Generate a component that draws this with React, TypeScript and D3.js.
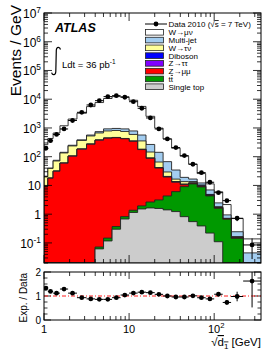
import React from 'react';
import * as d3 from 'd3';

// ---- data (Events / GeV), 25 bins in sqrt(d1) [GeV] ----
const binEdges = [1, 1.11, 1.28, 1.54, 1.92, 2.44, 3.16, 3.98, 5.01, 6.31, 7.94, 10, 12.6, 15.8, 20, 25.1, 31.6, 39.8, 50.1, 63.1, 79.4, 100, 126, 158, 219, 355];

const dataValues = [197, 361, 594, 923, 1820, 3500, 6300, 8900, 12300, 13300, 11700, 8200, 4840, 2230, 923, 414, 207, 109, 54.6, 27.9, 12.9, 5.6, 2.96, 0.72, 0.085];
const ratioErrors = [0.06, 0.05, 0.04, 0.03, 0.02, 0.02, 0.02, 0.02, 0.02, 0.02, 0.02, 0.02, 0.02, 0.02, 0.02, 0.02, 0.02, 0.03, 0.03, 0.03, 0.04, 0.06, 0.1, 0.2, 1.1];

const singleTop = [0, 0, 0, 0, 0, 0, 0, 0.062, 0.117, 0.3, 0.68, 1.15, 1.52, 1.65, 1.58, 1.41, 1.23, 0.82, 0.55, 0.39, 0.22, 0.11, 0.01, 0.005, 0];
const ttbar = [0, 0, 0, 0, 0, 0, 0, 0.01, 0.03, 0.07, 0.14, 0.22, 0.42, 1.0, 1.55, 2.9, 4.85, 8.26, 10.75, 8.48, 4.09, 1.5, 0.66, 0.14, 0.003];
const zmumu = [9.3, 17.8, 31.2, 59.6, 104.5, 183, 272, 376, 440, 456, 420, 342, 175, 85, 37, 15.3, 6.9, 1.5, 0.5, 0.45, 0.17, 0.06, 0.02, 0.005, 0.002];
const ztautau = [0.1, 0.2, 0.4, 0.6, 1, 2, 3, 4, 5, 6, 5, 5, 2.5, 1.3, 0.6, 0.3, 0.2, 0.1, 0.05, 0.03, 0.02, 0.01, 0.005, 0.002, 0.001];
const diboson = [0.1, 0.2, 0.3, 0.4, 0.5, 1, 2, 3, 4, 5, 5, 5, 2.5, 1.7, 1.0, 0.7, 0.5, 0.6, 0.6, 0.5, 0.3, 0.1, 0.015, 0.01, 0.005];
const wtaunu = [10.7, 20.8, 39.1, 74.4, 131, 181, 250, 287, 338, 351, 324, 241, 172, 55, 23.5, 8.8, 2.9, 2.3, 1.25, 0.55, 0.07, 0.02, 0.005, 0.003, 0.002];
const multijet = [0.8, 1.3, 4, 7, 13, 18, 40, 74, 143, 143, 172, 193, 214, 121, 77, 37.8, 17.8, 5.5, 3.0, 1.8, 2.1, 0.67, 0.23, 0.08, 0.032];
const wmunu = [241, 390, 590, 1049, 1788, 2870, 4977, 6910, 9648, 11408, 11241, 8397, 5047, 2275, 845, 347, 164, 85.3, 38.3, 13.7, 4.38, 3.54, 1.22, 0.46, 0.093];

const mainYExps = [-1, 0, 1, 2, 3, 4, 5, 6, 7];
const ratioYLabels = [0, 1, 2];
const xLabelExps = [0, 1, 2];

const FONT = "'Liberation Sans', Arial, Helvetica, sans-serif";

const L = 44, R = 261, MT = 13, MB = 263, RT = 272, RB = 320;

const x = d3.scaleLog().domain([1, 355]).range([L, R]);
const yMain = d3.scaleLog().domain([0.02, 1e7]).range([MB, MT]).clamp(true);
const yRatio = d3.scaleLinear().domain([0, 2]).range([RB, RT]).clamp(true);

const isPow10 = (v: number) => Math.abs(Math.log10(v) - Math.round(Math.log10(v))) < 1e-9;

function PowText({ x, y, exp, size, anchor }: { x: number; y: number; exp: number; size: number; anchor: string }) {
  if (exp === 0) return <text x={x} y={y} fontSize={size} textAnchor={anchor}>1</text>;
  if (exp === 1) return <text x={x} y={y} fontSize={size} textAnchor={anchor}>10</text>;
  return (
    <text x={x} y={y} fontSize={size} textAnchor={anchor}>
      10<tspan dy={-size * 0.42} fontSize={size * 0.7}>{exp}</tspan>
    </text>
  );
}

export default function App() {
  const n = dataValues.length;
  const stackDefs = [
    { key: 'Single top', vals: singleTop, fill: '#cccccc' },
    { key: 'tt', vals: ttbar, fill: '#009900' },
    { key: 'Z→μμ', vals: zmumu, fill: '#ff0000' },
    { key: 'Z→ττ', vals: ztautau, fill: '#8000ff' },
    { key: 'Diboson', vals: diboson, fill: '#0000ff' },
    { key: 'W→τν', vals: wtaunu, fill: '#ffff99' },
    { key: 'Multi-jet', vals: multijet, fill: '#a3cdf0' },
    { key: 'W→μν', vals: wmunu, fill: '#ffffff' },
  ];
  let run: number[] = new Array(n).fill(0);
  const cum = stackDefs.map((s) => {
    run = run.map((r, i) => r + s.vals[i]);
    return { ...s, cum: run.slice() };
  });
  const totals = run;
  const ratio = totals.map((t, i) => t / dataValues[i]);

  const stepPath = (vals: number[]) => {
    let d = `M${x(binEdges[0])},${MB}`;
    vals.forEach((v, i) => {
      const yy = yMain(Math.max(v, 1e-4));
      d += `L${x(binEdges[i])},${yy}L${x(binEdges[i + 1])},${yy}`;
    });
    d += `L${x(binEdges[n])},${MB}Z`;
    return d;
  };

  const centers = binEdges.slice(0, n).map((e, i) => Math.sqrt(e * binEdges[i + 1]));

  const xTicks = x.ticks();
  const yTicks = yMain.ticks();
  const rTicks = d3.range(0, 2.0001, 0.25);

  const legendItems = [
    { label: 'W→μν', fill: '#ffffff' },
    { label: 'Multi-jet', fill: '#a3cdf0' },
    { label: 'W→τν', fill: '#ffff99' },
    { label: 'Diboson', fill: '#0000ff' },
    { label: 'Z→ττ', fill: '#8000ff' },
    { label: 'Z→μμ', fill: '#ff0000' },
    { label: 'tt', fill: '#009900', bar: true },
    { label: 'Single top', fill: '#cccccc' },
  ];

  return (
    <svg width={274} height={355} style={{ position: 'absolute', left: 0, top: 0, background: '#fff' }} fontFamily={FONT}>
      <defs>
        <clipPath id="clipMain"><rect x={L} y={MT} width={R - L} height={MB - MT} /></clipPath>
        <clipPath id="clipRatio"><rect x={L} y={RT} width={R - L} height={RB - RT} /></clipPath>
      </defs>
      <rect x={0} y={0} width={274} height={355} fill="#fff" />

      {/* stacked histograms */}
      <g clipPath="url(#clipMain)">
        {cum.slice().reverse().map((s) => (
          <path key={s.key} d={stepPath(s.cum)} fill={s.fill} stroke="#222" strokeWidth={0.9} />
        ))}
        {/* data */}
        {dataValues.map((v, i) => {
          const err = (v * ratioErrors[i]) / ratio[i];
          const cx = x(centers[i]);
          return (
            <g key={i}>
              <line x1={x(binEdges[i])} x2={x(binEdges[i + 1])} y1={yMain(v)} y2={yMain(v)} stroke="#000" strokeWidth={1} />
              <line x1={cx} x2={cx} y1={yMain(Math.max(v - err, 1e-4))} y2={yMain(v + err)} stroke="#000" strokeWidth={1} />
              <circle cx={cx} cy={yMain(v)} r={2.4} fill="#000" />
            </g>
          );
        })}
      </g>

      {/* main axes ticks */}
      <g stroke="#000" strokeWidth={0.8}>
        {yTicks.map((t, i) => {
          const len = isPow10(t) ? 8 : 4;
          const yy = yMain(t);
          return (
            <g key={'yt' + i}>
              <line x1={L} x2={L + len} y1={yy} y2={yy} />
              <line x1={R} x2={R - len} y1={yy} y2={yy} />
            </g>
          );
        })}
        {xTicks.map((t, i) => {
          const len = isPow10(t) ? 8 : 4;
          const xx = x(t);
          return (
            <g key={'xt' + i}>
              <line x1={xx} x2={xx} y1={MB} y2={MB - len} />
              <line x1={xx} x2={xx} y1={MT} y2={MT + len} />
              <line x1={xx} x2={xx} y1={RB} y2={RB - (isPow10(t) ? 7 : 4)} />
              <line x1={xx} x2={xx} y1={RT} y2={RT + (isPow10(t) ? 7 : 4)} />
            </g>
          );
        })}
        {rTicks.map((t, i) => {
          const len = Math.abs(t - Math.round(t)) < 1e-9 ? 7 : 3.5;
          const yy = yRatio(t);
          return (
            <g key={'rt' + i}>
              <line x1={L} x2={L + len} y1={yy} y2={yy} />
              <line x1={R} x2={R - len} y1={yy} y2={yy} />
            </g>
          );
        })}
      </g>
      <rect x={L} y={MT} width={R - L} height={MB - MT} fill="none" stroke="#000" strokeWidth={1} />

      {/* main y labels */}
      {mainYExps.map((e) => (
        <PowText key={'yl' + e} x={41} y={yMain(Math.pow(10, e)) + 5} exp={e} size={12} anchor="end" />
      ))}
      <text transform={`translate(21,5) rotate(-90)`} fontSize={15.5} textAnchor="end">Events / GeV</text>

      {/* ATLAS label */}
      <text x={55} y={32} fontSize={12.5} fontWeight="bold" fontStyle="italic">ATLAS</text>
      <path d="M60.5,49.5 C59.8,46.6 56.6,46.4 56.3,50.2 L55.8,71.8 C55.5,75.6 52.4,75.4 51.6,72.6" fill="none" stroke="#000" strokeWidth={1.2} />
      <text x={62} y={68} fontSize={9.5}>
        Ldt = 36 pb<tspan dy={-4} fontSize={6.5}>-1</tspan>
      </text>

      {/* legend */}
      <g fontSize={8}>
        <line x1={145} x2={167} y1={24} y2={24} stroke="#000" strokeWidth={1} />
        <circle cx={156} cy={24} r={2.4} fill="#000" />
        <text x={168.5} y={27}>
          Data 2010 (√<tspan textDecoration="overline" style={{ textDecoration: 'overline' }}>s</tspan> = 7 TeV)
        </text>
        {legendItems.map((it, i) => {
          const cy = 32.3 + i * 7.77;
          return (
            <g key={it.label}>
              <rect x={145.5} y={cy - 2.8} width={18} height={5.6} fill={it.fill} stroke="#222" strokeWidth={0.8} />
              <text x={168.5} y={cy + 3}>
                {it.bar ? (
                  <>t<tspan style={{ textDecoration: 'overline' }}>t</tspan></>
                ) : it.label}
              </text>
            </g>
          );
        })}
      </g>

      {/* ratio panel */}
      <g clipPath="url(#clipRatio)">
        <line x1={L} x2={R} y1={yRatio(1)} y2={yRatio(1)} stroke="#ff0000" strokeWidth={0.9} strokeDasharray="4,2,1,2" />
        {ratio.map((r, i) => {
          const cx = x(centers[i]);
          return (
            <g key={'r' + i}>
              <line x1={x(binEdges[i])} x2={x(binEdges[i + 1])} y1={yRatio(r)} y2={yRatio(r)} stroke="#000" strokeWidth={1} />
              <line x1={cx} x2={cx} y1={yRatio(r - ratioErrors[i])} y2={yRatio(r + ratioErrors[i])} stroke="#000" strokeWidth={1} />
              <circle cx={cx} cy={yRatio(r)} r={2.4} fill="#000" />
            </g>
          );
        })}
      </g>
      <rect x={L} y={RT} width={R - L} height={RB - RT} fill="none" stroke="#000" strokeWidth={1} />
      {ratioYLabels.map((v) => (
        <text key={'ry' + v} x={41} y={yRatio(v) + 3.5} fontSize={10} textAnchor="end">{v}</text>
      ))}
      <text transform={`translate(26.5,273) rotate(-90)`} fontSize={10} textAnchor="end">Exp. / Data</text>
      {xLabelExps.map((e) => (
        <PowText key={'xl' + e} x={x(Math.pow(10, e)) + (e === 2 ? 2 : 0)} y={333} exp={e} size={11} anchor="middle" />
      ))}
      <text x={261} y={346} fontSize={11.5} textAnchor="end">
        √<tspan style={{ textDecoration: 'overline' }}>d<tspan dy={2.5} fontSize={8}>1</tspan></tspan><tspan dy={-2.5}> [GeV]</tspan>
      </text>
    </svg>
  );
}
